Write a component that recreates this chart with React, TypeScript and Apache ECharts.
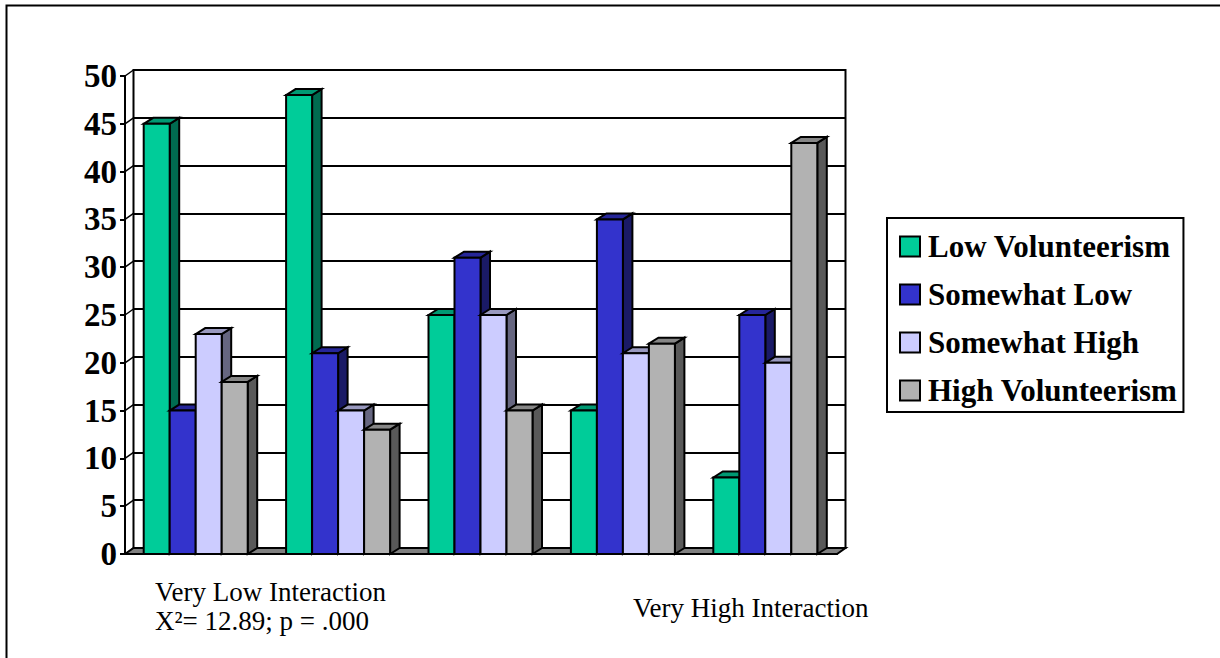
import React, { useEffect, useRef } from "react";
import * as echarts from "echarts";

// Share of respondents by interaction level and volunteerism group
const groups = ["1", "2", "3", "4", "5"];
const seriesNames = ["Low Volunteerism", "Somewhat Low", "Somewhat High", "High Volunteerism"];
const lowVolunteerism = [45, 48, 25, 15, 8];
const somewhatLow = [15, 21, 31, 35, 25];
const somewhatHigh = [23, 15, 25, 21, 20];
const highVolunteerism = [18, 13, 15, 22, 43];
const frontColors = ["#00CC99", "#3333CC", "#CCCCFF", "#B2B2B2"];
const topColors = ["#009973", "#262699", "#9999BF", "#868686"];
const sideColors = ["#006B50", "#1A1A66", "#666680", "#595959"];
const wallTicks = [0, 5, 10, 15, 20, 25, 30, 35, 40, 45, 50];

const SERIF = '"Liberation Serif", "Times New Roman", serif';
const DEPTH_X = 8.5;
const DEPTH_Y = 6;
const BAR_W = 26;
const STROKE = { stroke: "#000", lineWidth: 2 };

// One extruded column: front face, right side and top cap
const barRenderer = (slot: number) => (params: any, api: any) => {
  const [cx, yTop] = api.coord([api.value(0), api.value(1)]);
  const [, yBase] = api.coord([api.value(0), 0]);
  const x = cx - 52.5 + slot * BAR_W;
  const d = DEPTH_X + 1;
  const r = x + BAR_W;
  return {
    type: "group",
    children: [
      {
        type: "polygon",
        shape: { points: [[r, yTop], [r + d, yTop - DEPTH_Y], [r + d, yBase - DEPTH_Y], [r, yBase]] },
        style: { fill: sideColors[slot], ...STROKE },
      },
      {
        type: "polygon",
        shape: { points: [[x, yTop], [x + d, yTop - DEPTH_Y], [r + d, yTop - DEPTH_Y], [r, yTop]] },
        style: { fill: topColors[slot], ...STROKE },
      },
      {
        type: "rect",
        shape: { x, y: yTop, width: BAR_W, height: yBase - yTop },
        style: { fill: frontColors[slot], ...STROKE },
      },
    ],
  };
};

// Slanted left wall segment joining the front axis to the back wall at each tick
const wallLink = (params: any, api: any) => {
  const y = api.coord([0, api.value(0)])[1];
  const x = params.coordSys.x;
  return {
    type: "line",
    shape: { x1: x, y1: y, x2: x + DEPTH_X, y2: y - DEPTH_Y },
    style: { stroke: "#000", lineWidth: 1.5 },
  };
};

// Chart floor, a single parallelogram between front axis and back wall
const floor = (params: any, api: any) => {
  const y = api.coord([0, 0])[1];
  const { x, width } = params.coordSys;
  return {
    type: "polygon",
    shape: {
      points: [
        [x, y],
        [x + DEPTH_X, y - DEPTH_Y],
        [x + width + DEPTH_X, y - DEPTH_Y],
        [x + width, y],
      ],
    },
    style: { fill: "#808080", ...STROKE },
  };
};

const buildOption = () => {
  const values = [lowVolunteerism, somewhatLow, somewhatHigh, highVolunteerism];
  return {
    animation: false,
    backgroundColor: "#fff",
    textStyle: { fontFamily: SERIF },
    grid: [
      { left: 125, top: 76, width: 712, height: 478 },
      {
        left: 125 + DEPTH_X,
        top: 76 - DEPTH_Y,
        width: 712,
        height: 478,
        show: true,
        borderColor: "#000",
        borderWidth: 2,
        z: 0,
      },
    ],
    xAxis: [
      {
        type: "category",
        gridIndex: 0,
        data: groups,
        axisLine: { lineStyle: { color: "#000", width: 2 } },
        axisTick: { length: 6, lineStyle: { color: "#000", width: 2 } },
        axisLabel: { show: false },
      },
      {
        type: "category",
        gridIndex: 1,
        data: groups,
        axisLine: { show: false },
        axisTick: { show: false },
        axisLabel: { show: false },
      },
    ],
    yAxis: [
      {
        type: "value",
        gridIndex: 0,
        min: 0,
        max: 50,
        interval: 5,
        axisLine: { show: true, lineStyle: { color: "#000", width: 2 } },
        axisTick: { show: true, length: 5, lineStyle: { color: "#000", width: 2 } },
        axisLabel: {
          margin: 8,
          color: "#000",
          fontFamily: SERIF,
          fontWeight: "bold",
          fontSize: 33,
        },
        splitLine: { show: false },
      },
      {
        type: "value",
        gridIndex: 1,
        min: 0,
        max: 50,
        interval: 5,
        axisLine: { show: false },
        axisTick: { show: false },
        axisLabel: { show: false },
        splitLine: { show: true, lineStyle: { color: "#000", width: 2 } },
      },
    ],
    legend: {
      orient: "vertical",
      left: 887,
      top: 218,
      data: seriesNames,
      icon: "rect",
      itemWidth: 20,
      itemHeight: 20,
      itemGap: 17,
      padding: [13, 6, 6, 12],
      backgroundColor: "#fff",
      borderColor: "#000",
      borderWidth: 2,
      itemStyle: { borderColor: "#000", borderWidth: 2 },
      textStyle: {
        color: "#000",
        fontFamily: SERIF,
        fontWeight: "bold",
        fontSize: 31,
        padding: [0, 0, 0, 3],
      },
    },
    series: [
      {
        type: "custom",
        renderItem: wallLink,
        xAxisIndex: 0,
        yAxisIndex: 0,
        data: wallTicks.map((v) => [v]),
        encode: { y: 0 },
        silent: true,
        z: 1,
      },
      {
        type: "custom",
        renderItem: floor,
        xAxisIndex: 0,
        yAxisIndex: 0,
        data: [[0]],
        encode: { y: 0 },
        silent: true,
        z: 1,
      },
      ...seriesNames.map((name, slot) => ({
        type: "custom",
        name,
        renderItem: barRenderer(slot),
        xAxisIndex: 0,
        yAxisIndex: 0,
        data: values[slot].map((v, i) => [i, v]),
        encode: { x: 0, y: 1 },
        itemStyle: { color: frontColors[slot] },
        z: 2 + slot,
      })),
    ],
    graphic: [
      {
        type: "polyline",
        silent: true,
        shape: { points: [[6.5, 658], [6.5, 5.5], [1220, 5.5]] },
        style: { fill: "none", stroke: "#000", lineWidth: 2 },
      },
      {
        type: "text",
        x: 155,
        y: 577,
        style: {
          text: "Very Low Interaction\nX²= 12.89; p = .000",
          font: `27px ${SERIF}`,
          lineHeight: 29,
          fill: "#000",
        },
      },
      {
        type: "text",
        x: 633,
        y: 594,
        style: { text: "Very High Interaction", font: `27px ${SERIF}`, fill: "#000" },
      },
    ],
  };
};

export default function App() {
  const ref = useRef<HTMLDivElement>(null);
  useEffect(() => {
    if (!ref.current) return;
    const chart = echarts.init(ref.current, undefined, { renderer: "svg" });
    chart.setOption(buildOption() as any);
    return () => chart.dispose();
  }, []);
  return <div ref={ref} style={{ position: "absolute", left: 0, top: 0, width: 1220, height: 658 }} />;
}
